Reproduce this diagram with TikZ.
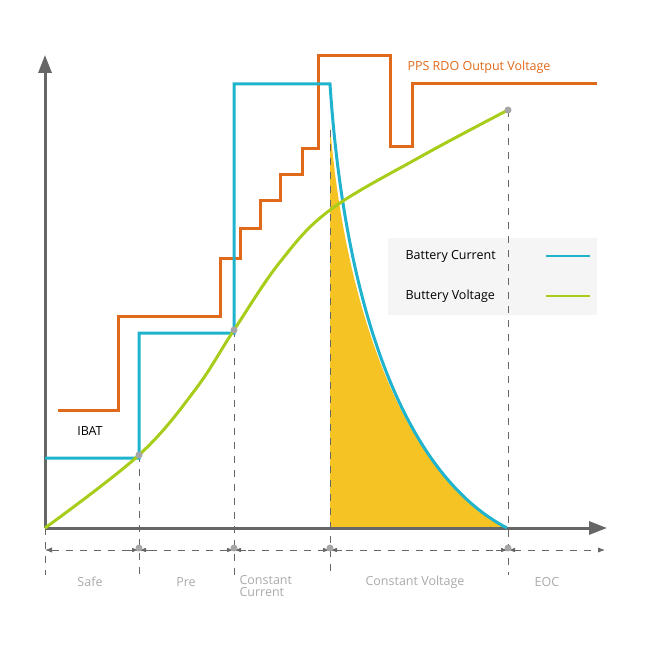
\documentclass[tikz,border=0pt]{standalone}
\usepackage{fontspec}
\setmainfont{Open Sans}
\usetikzlibrary{arrows.meta}
\definecolor{ppsor}{HTML}{E06A1A}
\definecolor{batbl}{HTML}{1FB3CE}
\definecolor{batgr}{HTML}{A8CC1A}
\definecolor{fillye}{HTML}{F5C324}
\definecolor{axgr}{HTML}{666666}
\definecolor{lblgr}{HTML}{AAAAAA}
\begin{document}
\begin{tikzpicture}[x=1pt,y=-1pt,
  curve/.style={line width=3pt},
  divline/.style={densely dashed,dash pattern=on 7pt off 7pt,axgr,line width=0.7pt},
  dotg/.style={circle,fill=gray!70,inner sep=0pt,minimum size=7pt},
  lbl/.style={font=\fontsize{12.5}{14}\selectfont,text=lblgr,align=left},
  txt/.style={font=\fontsize{12.5}{14}\selectfont}]
\useasboundingbox (0,0) rectangle (650,650);
% fill
\fill[fillye] (330,125) .. controls (345,310) and (405,475) .. (505,528) -- (330,528) -- cycle;
% legend box
\fill[gray!8] (388,238) rectangle (597,315);
% dividers
\coordinate (d0) at (45,528);
\coordinate (d1) at (139,455);
\coordinate (d2) at (234,330);
\coordinate (d3) at (330,130);
\coordinate (d4) at (508,110);
\foreach \x/\t in {45/528,139/455,234/330,330/130,508/110}
  \draw[divline] (\x,\t) -- (\x,575);
% dimension line
\draw[divline,{Latex[length=7pt]}-{Latex[length=7pt]}] (45,550) -- (605,550);
\foreach \x in {139,234,330,508}{
  \draw[axgr,-{Latex[length=6pt]}] (\x-12,550) -- (\x-1,550);
  \draw[axgr,-{Latex[length=6pt]}] (\x+12,550) -- (\x+1,550);
  \node[dotg] at (\x,548) {};}
% axes
\draw[axgr,line width=3pt,-{Triangle[length=18pt,width=13pt]}] (45,528) -- (45,55);
\draw[axgr,line width=3pt,-{Triangle[length=18pt,width=13pt]}] (45,528) -- (607,528);
% orange
\draw[curve,ppsor] (58,410) -- (118,410) -- (118,316) -- (220,316) -- (220,258) -- (240,258) -- (240,228) -- (260,228) -- (260,200) -- (280,200) -- (280,174) -- (302,174) -- (302,148) -- (318,148) -- (318,56) -- (390,56) -- (390,146) -- (412,146) -- (412,84) -- (597,84);
% blue
\draw[curve,batbl] (45,458) -- (139,458) -- (139,333) -- (234,333) -- (234,84) -- (330,84) .. controls (345,310) and (405,475) .. (507,528);
% green
\draw[curve,batgr] plot[smooth,tension=0.6] coordinates {(45,528) (139,455) (195,390) (234,330) (280,262) (330,210) (420,157) (508,110)};
\node[dotg] at (d1) {};
\node[dotg] at (d2) {};
\node[dotg] at (d4) {};
% texts
\node[txt,text=ppsor,anchor=west] (pps) at (404,67) {PPS RDO Output Voltage};
\node[txt,anchor=west] (lc) at (402,256) {Battery Current};
\node[txt,anchor=west] (lv) at (402,296) {Buttery Voltage};
\draw[batbl,line width=2.5pt] (546,256) -- (590,256);
\draw[batgr,line width=2.5pt] (546,296) -- (590,296);
\node[txt] (ibat) at (90,431) {IBAT};
\node[lbl] (s) at (90,582) {Safe};
\node[lbl] (p) at (186,582) {Pre};
\node[lbl,anchor=north west] (cc) at (236,572) {Constant\\[-2pt]Current};
\node[lbl] (cv) at (415,582) {Constant Voltage};
\node[lbl] (eoc) at (547,582) {EOC};
\end{tikzpicture}
\end{document}
